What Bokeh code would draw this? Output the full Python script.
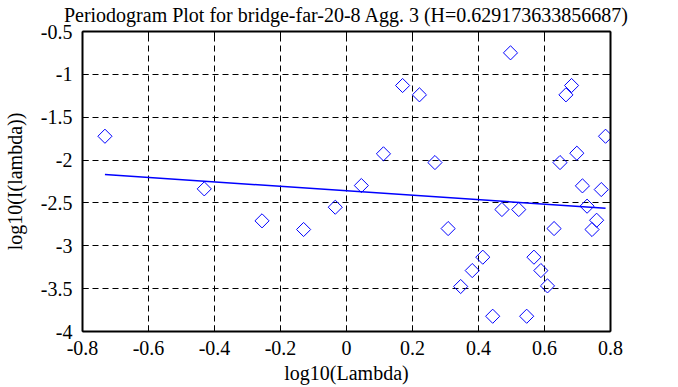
from bokeh.plotting import figure
from bokeh.models import Range1d, FixedTicker, LinearAxis
from bokeh.embed import file_html
from bokeh.resources import INLINE

# ---- data ----
log_lambda = [-0.732, -0.431, -0.256, -0.130, -0.034, 0.045, 0.112, 0.170, 0.221,
              0.268, 0.308, 0.346, 0.381, 0.413, 0.443, 0.471, 0.497, 0.522, 0.546,
              0.568, 0.589, 0.609, 0.629, 0.647, 0.665, 0.682, 0.698, 0.715, 0.729,
              0.744, 0.758, 0.772, 0.785]
log_I = [-1.722, -2.336, -2.709, -2.810, -2.550, -2.297, -1.927, -1.130, -1.239,
         -2.029, -2.799, -3.475, -3.289, -3.133, -3.822, -2.577, -0.749, -2.577, -3.822,
         -3.133, -3.289, -3.468, -2.799, -2.029, -1.239, -1.130, -1.920, -2.301, -2.538,
         -2.810, -2.702, -2.344, -1.722]
fit_x = [-0.732, 0.785]
fit_y = [-2.169, -2.562]

x_ticks = [-0.8, -0.6, -0.4, -0.2, 0.0, 0.2, 0.4, 0.6, 0.8]
x_tick_labels = ["-0.8", "-0.6", "-0.4", "-0.2", "0", "0.2", "0.4", "0.6", "0.8"]
y_ticks = [-4.0, -3.5, -3.0, -2.5, -2.0, -1.5, -1.0, -0.5]
y_tick_labels = ["-4", "-3.5", "-3", "-2.5", "-2", "-1.5", "-1", "-0.5"]

title_text = "Periodogram Plot for bridge-far-20-8 Agg. 3 (H=0.629173633856687)"
x_label = "log10(Lambda)"
y_label = "log10(I(lambda))"

FONT = "Liberation Serif"
FS = "20px"

p = figure(frame_width=528, frame_height=300,
           x_range=Range1d(-0.8, 0.8), y_range=Range1d(-4, -0.5),
           output_backend="svg", toolbar_location=None,
           min_border_left=81, min_border_top=31, min_border_bottom=50,
           min_border_right=60)

p.outline_line_color = None
p.background_fill_color = "white"
p.border_fill_color = "white"

for ax, ticks, labels in ((p.xaxis[0], x_ticks, x_tick_labels), (p.yaxis[0], y_ticks, y_tick_labels)):
    ax.ticker = FixedTicker(ticks=ticks)
    ax.major_label_overrides = {t: l for t, l in zip(ticks, labels)}
    ax.major_label_text_font = FONT
    ax.major_label_text_font_size = FS
    ax.major_label_text_color = "black"
    ax.axis_label_text_font = FONT
    ax.axis_label_text_font_size = FS
    ax.axis_label_text_font_style = "normal"
    ax.axis_label_text_color = "black"
    ax.axis_line_width = 2
    ax.axis_line_color = "black"
    ax.major_tick_in = 6
    ax.major_tick_out = 0
    ax.major_tick_line_color = "black"
    ax.minor_tick_line_color = None

p.xaxis[0].axis_label = x_label
p.yaxis[0].axis_label = y_label
p.xaxis[0].major_label_standoff = 9
p.xaxis[0].axis_label_standoff = 4
p.yaxis[0].major_label_standoff = 10
p.yaxis[0].axis_label_standoff = 12

right_axis = LinearAxis(ticker=FixedTicker(ticks=y_ticks), major_label_text_font_size="0px",
                        major_label_text_color=None, major_label_standoff=0,
                        axis_line_width=2, axis_line_color="black",
                        major_tick_in=6, major_tick_out=0, major_tick_line_color="black",
                        minor_tick_line_color=None)
p.add_layout(right_axis, "right")

# top frame axis; its axis label carries the chart title
top_axis = LinearAxis(ticker=FixedTicker(ticks=x_ticks), major_label_text_font_size="0px",
                      major_label_text_color=None, major_label_standoff=0,
                      axis_line_width=2, axis_line_color="black",
                      major_tick_in=6, major_tick_out=0, major_tick_line_color="black",
                      minor_tick_line_color=None,
                      axis_label=title_text, axis_label_standoff=6,
                      axis_label_text_font=FONT, axis_label_text_font_size=FS,
                      axis_label_text_font_style="normal", axis_label_text_color="black")
p.add_layout(top_axis, "above")

p.xgrid.ticker = FixedTicker(ticks=x_ticks)
p.ygrid.ticker = FixedTicker(ticks=y_ticks)
for g in (p.xgrid[0], p.ygrid[0]):
    g.grid_line_color = "black"
    g.grid_line_dash = "6 4"
    g.grid_line_width = 1
    g.grid_line_alpha = 1.0

p.line(fit_x, fit_y, line_color="#0000ff", line_width=1.5)
p.scatter(log_lambda, log_I, marker="square", angle=0.785398, size=10,
          fill_color=None, line_color="#0000ff", line_width=1)

open("out.html", "w").write(file_html(p, INLINE))
